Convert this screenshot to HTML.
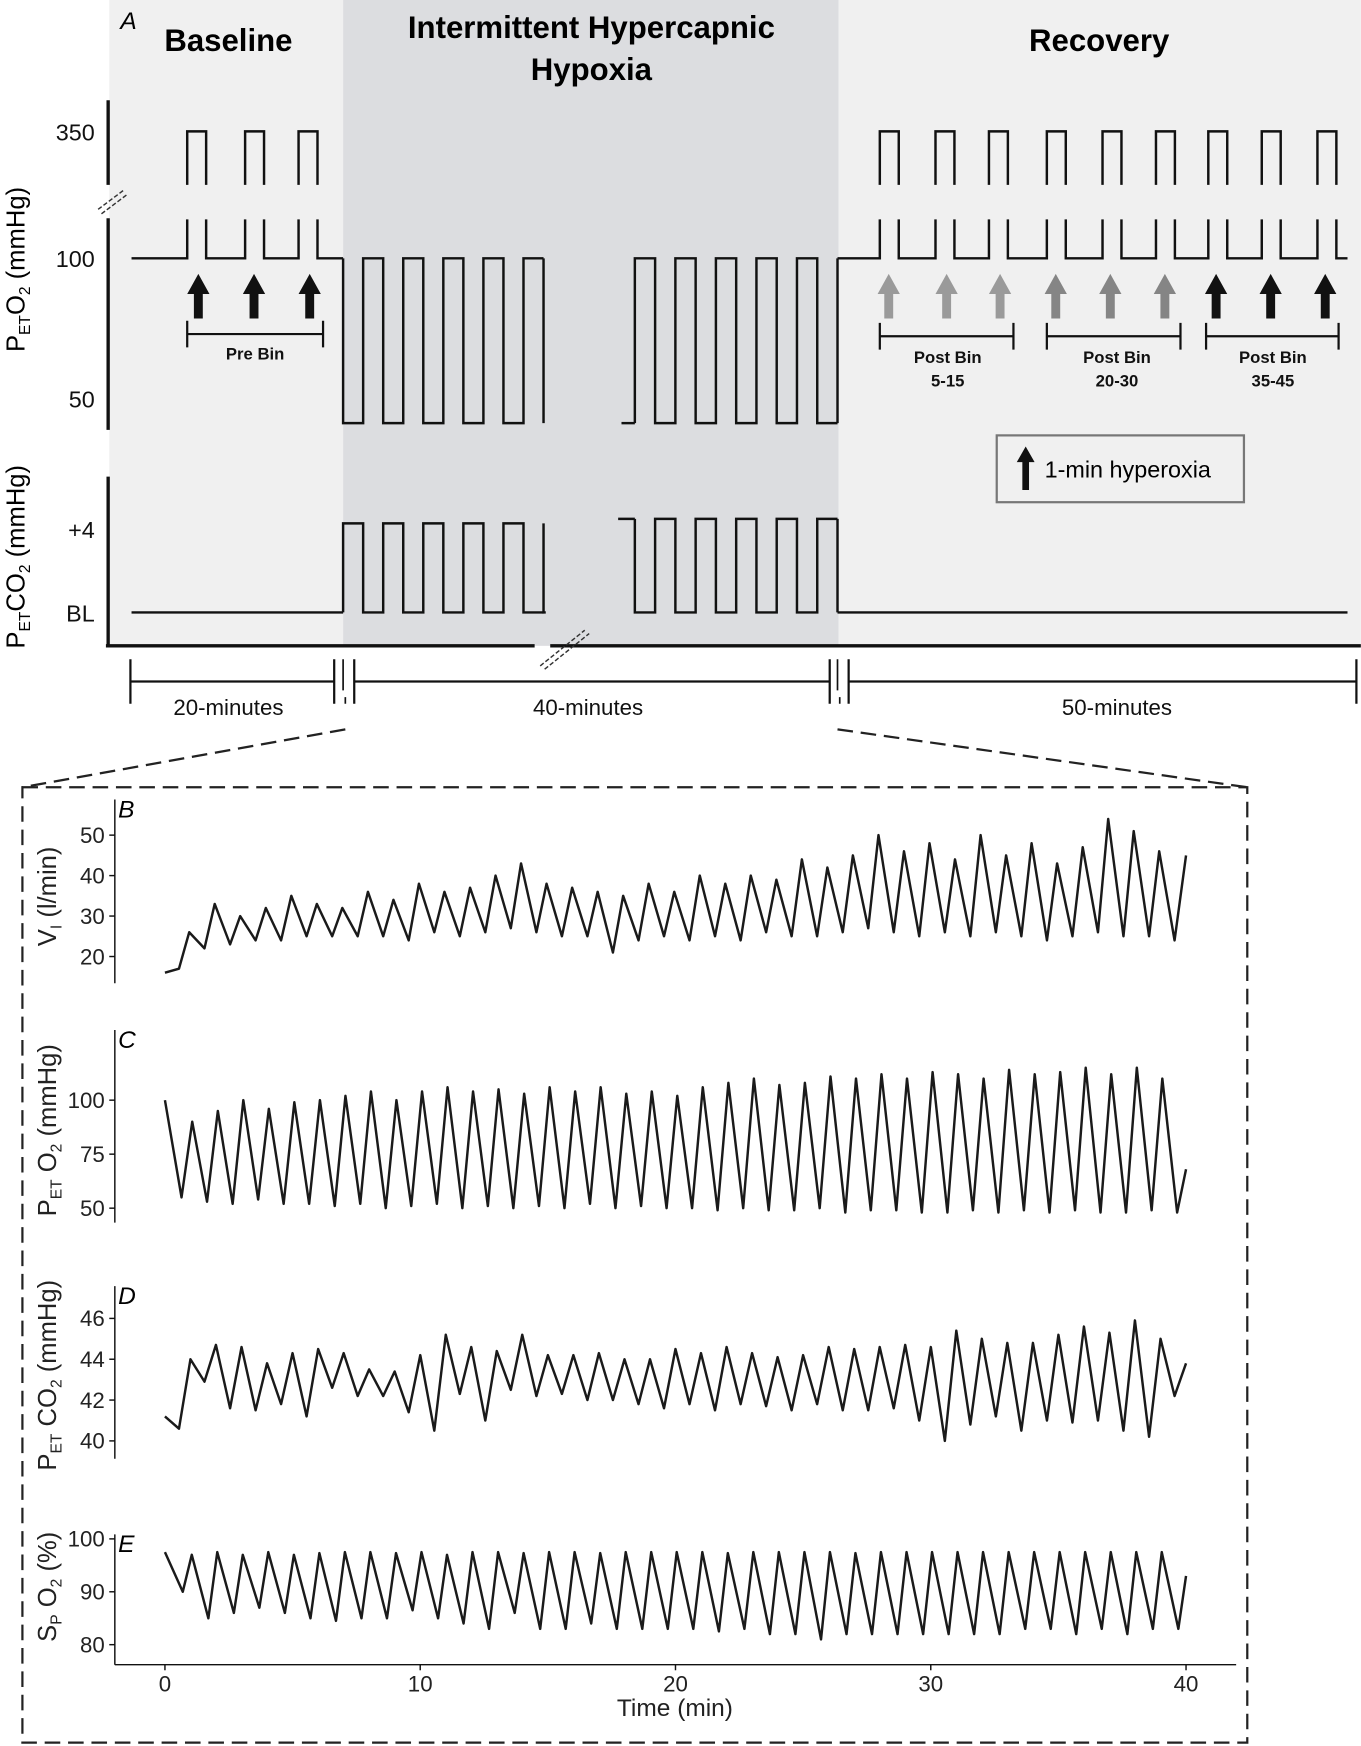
<!DOCTYPE html>
<html><head><meta charset="utf-8">
<style>
html,body{margin:0;padding:0;background:#fff;}
svg{display:block;font-family:"Liberation Sans",Arial,sans-serif;}
</style></head>
<body>
<svg id="fig" width="1361" height="1746" viewBox="0 0 1222 1568" xmlns="http://www.w3.org/2000/svg">
<rect x="98" y="0" width="210" height="580" fill="#f0f0f0"/>
<rect x="308" y="0" width="445" height="580" fill="#dcdde0"/>
<rect x="753" y="0" width="469" height="580" fill="#f0f0f0"/>
<text x="108" y="26" font-size="22" font-style="italic">A</text>
<text x="205" y="46" font-size="28" font-weight="bold" text-anchor="middle">Baseline</text>
<text x="531" y="34" font-size="28" font-weight="bold" text-anchor="middle">Intermittent Hypercapnic</text>
<text x="531" y="72" font-size="28" font-weight="bold" text-anchor="middle">Hypoxia</text>
<text x="987" y="46" font-size="28" font-weight="bold" text-anchor="middle">Recovery</text>
<g stroke="#111" stroke-width="3" fill="none">
<line x1="97" y1="90" x2="97" y2="166"/>
<line x1="97" y1="196" x2="97" y2="386"/>
<line x1="97" y1="428" x2="97" y2="581"/>
<line x1="95" y1="580" x2="480" y2="580"/>
<line x1="494" y1="580" x2="1222" y2="580"/>
</g>
<g stroke="#333" stroke-width="1.3" stroke-dasharray="4,2">
<line x1="88" y1="188" x2="112" y2="170"/><line x1="91" y1="192" x2="115" y2="174"/>
<line x1="485" y1="598" x2="525" y2="566"/><line x1="489" y1="601" x2="529" y2="569"/>
</g>
<g font-size="21" fill="#111" text-anchor="end">
<text x="85" y="126">350</text>
<text x="85" y="240">100</text>
<text x="85" y="366">50</text>
<text x="85" y="483">+4</text>
<text x="85" y="558">BL</text>
</g>
<text transform="translate(22,242) rotate(-90)" font-size="23" text-anchor="middle">P<tspan font-size="14" dy="5">ET</tspan><tspan dy="-5">O</tspan><tspan font-size="14" dy="5">2</tspan><tspan dy="-5"> (mmHg)</tspan></text>
<text transform="translate(22,500) rotate(-90)" font-size="23" text-anchor="middle">P<tspan font-size="14" dy="5">ET</tspan><tspan dy="-5">CO</tspan><tspan font-size="14" dy="5">2</tspan><tspan dy="-5"> (mmHg)</tspan></text>
<g id="protocol" stroke="#111" stroke-width="2.2" fill="none"></g>
<g id="arrows"></g>
<g stroke="#111" stroke-width="2" fill="none">
<path d="M168,288V312M168,300H290M290,288V312"/>
<path d="M790,290V314M790,302H910M910,290V314"/>
<path d="M940,290V314M940,302H1060M1060,290V314"/>
<path d="M1083,290V314M1083,302H1202M1202,290V314"/>
</g>
<g font-size="15" font-weight="bold" text-anchor="middle" fill="#111">
<text x="229" y="323">Pre Bin</text>
<text x="851" y="326">Post Bin</text><text x="851" y="347">5-15</text>
<text x="1003" y="326">Post Bin</text><text x="1003" y="347">20-30</text>
<text x="1143" y="326">Post Bin</text><text x="1143" y="347">35-45</text>
</g>
<g>
<rect x="895" y="391" width="222" height="60" fill="#f0f0f0" stroke="#777" stroke-width="2"/>
<path d="M921,401 L929,415 L924,415 L924,440 L918,440 L918,415 L913,415 Z" fill="#111"/>
<text x="938" y="429" font-size="21">1-min hyperoxia</text>
</g>
<g stroke="#111" stroke-width="2" fill="none">
<path d="M117,592V632M117,612H300M300,592V632"/>
<path d="M318,592V632M318,612H745M745,592V632"/>
<path d="M762,592V632M762,612H1218M1218,592V632"/>
<path d="M308,592V620M310,626V632M752,592V620M754,626V632" stroke-width="1.5"/>
</g>
<g font-size="20" text-anchor="middle" fill="#111">
<text x="205" y="642">20-minutes</text>
<text x="528" y="642">40-minutes</text>
<text x="1003" y="642">50-minutes</text>
</g>
<g stroke="#222" stroke-width="2" stroke-dasharray="14,7" fill="none">
<path d="M310,655 L20,707"/>
<path d="M752,655 L1120,707"/>
<rect x="20" y="707" width="1100" height="858"/>
</g>
<g id="traces"></g>
</svg>
<script>
const NS="http://www.w3.org/2000/svg";
function mk(tag,attrs,parent){const e=document.createElementNS(NS,tag);for(const k in attrs)e.setAttribute(k,attrs[k]);parent.appendChild(e);return e;}
const prot=document.getElementById('protocol');
const baselinePulses=[168,220,268];
const recoveryPulses=[790,840,888,940,990,1038,1085,1133,1183];
const pulseW=17;
function pulseSet(xs,start,end){
  let d="M"+start+",232";
  xs.forEach(x=>{d+=" H"+x+" V197 M"+(x+pulseW)+",197 V232";});
  d+=" H"+end;
  const p=mk('path',{d:d},prot);
  
  
  xs.forEach(x=>{
    const q=mk('path',{d:"M"+x+",166 V118 H"+(x+pulseW)+" V166"},prot);
    
    
  });
}
pulseSet(baselinePulses,118,308);
pulseSet(recoveryPulses,752,1210);
// square wave: starts at level yStart, toggles between yA/yB every `half` px, n half-periods
function square(x0,half,n,yPrev,yFirst,yOther,name){
  let d="M"+x0+","+yPrev+" V"+yFirst; let x=x0; let y=yFirst;
  for(let k=0;k<n;k++){x+=half;d+=" H"+x.toFixed(1);y=(y===yFirst)?yOther:yFirst;if(k<n-1)d+=" V"+y;}
  const p=mk('path',{d:d},prot);
  
  
  return x;
}
square(308,18,10,232,380,232,'peto2-ihh-block-1');
mk('path',{d:"M488,380 V232"},prot);
square(308,18,10,550,470,550,'petco2-ihh-block-1');
mk('path',{d:"M488,470 V550 H490"},prot);
mk('path',{d:"M558,380 H570"},prot);
square(570,18.2,10,380,232,380,'peto2-ihh-block-2');
mk('path',{d:"M752,380 V232"},prot);
mk('path',{d:"M555,466 H570"},prot);
square(570,18.2,10,466,550,466,'petco2-ihh-block-2');
mk('path',{d:"M752,550 V466 M118,550 H308 M752,550 H1210"},prot);
const arrowXs=[178,228,278,798,850,898,948,997,1046,1092,1141,1190];
const arrowCols=["#111","#111","#111","#9a9a9a","#9a9a9a","#9a9a9a","#858585","#858585","#858585","#111","#111","#111"];
const ag=document.getElementById('arrows');
arrowXs.forEach((x,i)=>{
  const a=mk('path',{d:`M${x},246 L${x+10},264 L${x+4},264 L${x+4},286 L${x-4},286 L${x-4},264 L${x-10},264 Z`,fill:arrowCols[i]},ag);
  
  
});
const viPeaks=[26,33,30,32,35,33,32,36,34,38,36,37,40,43,38,37,36,35,38,36,40,38,40,39,44,42,45,50,46,48,44,50,45,48,43,47,54,51,46];
const viTroughs=[17,22,23,24,24,25,25,25,25,24,26,25,26,27,26,25,25,21,24,25,24,25,24,26,25,25,26,27,26,25,26,25,26,25,24,25,26,25,25,24];
const viStartEnd=[16,45];
const o2Peaks=[90,95,100,96,99,100,102,104,100,104,106,104,105,103,106,104,106,103,104,102,106,108,110,107,108,111,110,112,110,113,112,110,114,112,113,115,112,115,110];
const o2Troughs=[55,53,52,54,52,52,51,52,50,51,52,50,51,50,51,50,52,50,51,50,50,49,50,49,49,50,48,49,49,48,48,49,48,49,48,49,48,48,49,48];
const o2StartEnd=[100,68];
const co2Peaks=[44.0,44.7,44.6,43.8,44.3,44.5,44.3,43.5,43.4,44.2,45.2,44.6,44.4,45.2,44.2,44.2,44.3,44.0,44.0,44.5,44.3,44.6,44.3,44.1,44.2,44.6,44.5,44.6,44.7,44.6,45.4,45.0,44.8,44.8,45.2,45.6,45.3,45.9,45.0];
const co2Troughs=[40.6,42.9,41.6,41.5,41.8,41.2,42.6,42.2,42.2,41.4,40.5,42.3,41.0,42.5,42.2,42.3,42.0,42.0,41.8,41.6,41.8,41.5,41.8,41.7,41.5,41.8,41.5,41.5,41.6,41.0,40.0,40.8,41.2,40.5,41.0,40.9,41.0,40.5,40.2,42.2];
const co2StartEnd=[41.2,43.8];
const spPeaks=[97,97.5,97,97.5,97,97.3,97.5,97.5,97.3,97.5,97,97.5,97.5,97.3,97.5,97.5,97.3,97.5,97.5,97.5,97.5,97.3,97.5,97.5,97.5,97.5,97.3,97.5,97.5,97.5,97.5,97.5,97.5,97.5,97.5,97.5,97.5,97.5,97.5];
const spTroughs=[90,85,86,87,86,85,84.5,85,85,86.5,85,84,83,86,83,83,84,83,83,83,83,82.5,83,82,82,81,82,82,82,82,82,82,82,83,83,82,83,82,83,83];
const spStartEnd=[97.5,93];
const xTicks=[0,10,20,30,40];
const X0=148, XPM=(1065-148)/40;
function xs(t){return X0+t*XPM;}
function yScale(v0,y0,v1,y1){return v=>y0+(v-v0)*(y1-y0)/(v1-v0);}
const tg=document.getElementById('traces');
const panels=[
 {name:'vi',letter:'B',ys:yScale(20,859,50,750),ticks:[20,30,40,50],axis:[718,883],peaks:viPeaks,troughs:viTroughs,se:viStartEnd,tp:0.95,tt:0.55},
 {name:'peto2',letter:'C',ys:yScale(50,1085,100,988),ticks:[50,75,100],axis:[925,1098],peaks:o2Peaks,troughs:o2Troughs,se:o2StartEnd,tp:1.07,tt:0.65},
 {name:'petco2',letter:'D',ys:yScale(40,1294,46,1184),ticks:[40,42,44,46],axis:[1155,1310],peaks:co2Peaks,troughs:co2Troughs,se:co2StartEnd,tp:1.0,tt:0.55},
 {name:'spo2',letter:'E',ys:yScale(80,1477,100,1382),ticks:[80,90,100],axis:[1378,1495],peaks:spPeaks,troughs:spTroughs,se:spStartEnd,tp:1.05,tt:0.7}
];
panels.forEach(p=>{
  const ax=mk('line',{x1:103,y1:p.axis[0],x2:103,y2:p.axis[1],stroke:'#111','stroke-width':1.3},tg);
  
  
  const lt=mk('text',{x:106,y:p.axis[0]+16,'font-size':22,'font-style':'italic'},tg);
  lt.textContent=p.letter;
  
  
  p.ticks.forEach(v=>{
    const y=p.ys(v);
    mk('line',{x1:98,y1:y,x2:103,y2:y,stroke:'#111','stroke-width':1.3},tg);
    const t=mk('text',{x:94,y:y+7,'font-size':20,'text-anchor':'end',fill:'#222'},tg);
    t.textContent=v;
    
    
  });
  const pts=[[0,p.se[0]]];
  const n=p.troughs.length;
  for(let i=0;i<n;i++){
    pts.push([i+p.tt,p.troughs[i]]);
    if(i<p.peaks.length) pts.push([i+p.tp,p.peaks[i]]);
  }
  pts.push([40,p.se[1]]);
  pts.sort((a,b)=>a[0]-b[0]);
  const d=pts.filter(q=>q[0]<=40).map((q,i)=>(i?'L':'M')+xs(q[0]).toFixed(1)+','+p.ys(q[1]).toFixed(1)).join(' ');
  const line=mk('path',{d:d,fill:'none',stroke:'#1a1a1a','stroke-width':2.2,'stroke-linejoin':'round'},tg);
  
  
});
function ytitle(cx,cy,html,name){
  const t=mk('text',{transform:`translate(${cx},${cy}) rotate(-90)`,'font-size':23,'text-anchor':'middle',fill:'#222'},tg);
  t.innerHTML=html;
  
  
}
ytitle(50,805,'V<tspan font-size="14" dy="5">I</tspan><tspan dy="-5"> (l/min)</tspan>','vi-axis-title');
ytitle(50,1015,'P<tspan font-size="14" dy="5">ET</tspan><tspan dy="-5"> O</tspan><tspan font-size="14" dy="5">2</tspan><tspan dy="-5"> (mmHg)</tspan>','peto2-lower-axis-title');
ytitle(50,1235,'P<tspan font-size="14" dy="5">ET</tspan><tspan dy="-5"> CO</tspan><tspan font-size="14" dy="5">2</tspan><tspan dy="-5"> (mmHg)</tspan>','petco2-lower-axis-title');
ytitle(50,1425,'S<tspan font-size="14" dy="5">P</tspan><tspan dy="-5"> O</tspan><tspan font-size="14" dy="5">2</tspan><tspan dy="-5"> (%)</tspan>','spo2-axis-title');
const xa=mk('line',{x1:103,y1:1495,x2:1110,y2:1495,stroke:'#111','stroke-width':1.3},tg);


xTicks.forEach(v=>{
  mk('line',{x1:xs(v),y1:1495,x2:xs(v),y2:1500,stroke:'#111','stroke-width':1.3},tg);
  const t=mk('text',{x:xs(v),y:1519,'font-size':20,'text-anchor':'middle',fill:'#222'},tg);
  t.textContent=v;
  
  
});
const xt=mk('text',{x:606,y:1541,'font-size':22,'text-anchor':'middle',fill:'#222'},tg);
xt.textContent='Time (min)';


</script>
</body></html>
